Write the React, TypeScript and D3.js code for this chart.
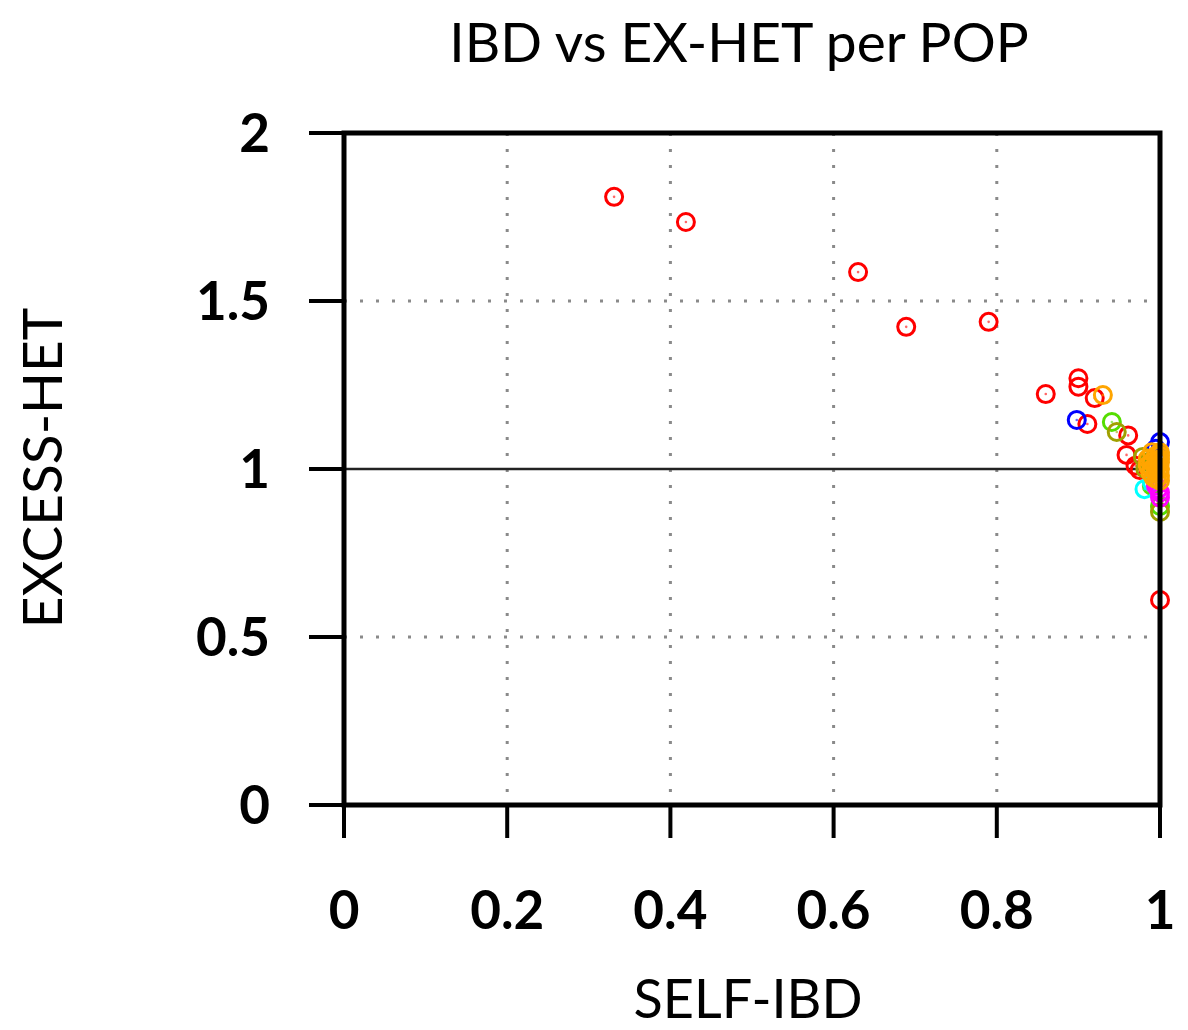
import * as d3 from "d3";
import React, { useEffect, useRef } from "react";

// SELF-IBD (x) and EXCESS-HET (y) per population colour group
const redX = [0.331, 0.419, 0.63, 0.689, 0.79, 0.86, 0.9, 0.9, 0.92, 0.911, 0.961, 0.959, 0.975, 0.97, 1.0];
const redY = [1.81, 1.735, 1.586, 1.423, 1.438, 1.223, 1.27, 1.245, 1.211, 1.134, 1.1, 1.042, 0.997, 1.01, 0.61];
const blueX = [0.898, 1.0, 0.995];
const blueY = [1.146, 1.08, 1.06];
const greenX = [0.941, 1.0, 0.99];
const greenY = [1.14, 0.89, 0.95];
const oliveX = [0.947, 0.979, 0.985, 1.0, 0.982];
const oliveY = [1.11, 1.036, 1.02, 0.872, 1.0];
const cyanX = [0.981, 0.99];
const cyanY = [0.94, 0.96];
const magentaX = [1.0, 1.0, 0.995, 0.998];
const magentaY = [0.93, 0.915, 0.95, 0.94];
const orangeX = [0.93, 0.985, 0.99, 0.995, 1.0, 1.0, 1.0, 0.99, 0.995, 1.0, 0.985, 0.99, 1.0, 0.995, 1.0, 0.992, 0.997, 1.0, 0.988, 0.996];
const orangeY = [1.22, 1.03, 1.05, 1.04, 1.05, 1.02, 1.0, 1.0, 0.99, 0.98, 1.01, 1.02, 1.03, 1.01, 0.965, 0.975, 1.025, 1.04, 0.99, 0.97];

const xTicks = [0, 0.2, 0.4, 0.6, 0.8, 1];
const yTicks = [0, 0.5, 1, 1.5, 2];

const groups = [
  { color: "#ff0000", xs: redX, ys: redY },
  { color: "#0000ff", xs: blueX, ys: blueY },
  { color: "#55dd00", xs: greenX, ys: greenY },
  { color: "#a0a000", xs: oliveX, ys: oliveY },
  { color: "#00ffff", xs: cyanX, ys: cyanY },
  { color: "#ff00ff", xs: magentaX, ys: magentaY },
  { color: "#ffa500", xs: orangeX, ys: orangeY },
];

export default function App() {
  const svgRef = useRef<SVGSVGElement>(null);

  useEffect(() => {
    const W = 1188, H = 1030;
    const svg = d3.select(svgRef.current).attr("width", W).attr("height", H);
    svg.selectAll("*").remove();

    const left = 344, right = 1160, top = 133, bottom = 805;
    const x = d3.scaleLinear().domain([0, 1]).range([left, right]);
    const y = d3.scaleLinear().domain([0, 2]).range([bottom, top]);
    const font = "Lato, 'Open Sans', sans-serif";

    // dotted grid
    const grid = svg.append("g");
    grid.selectAll(".gx")
      .data(xTicks.filter((d) => d > 0 && d < 1))
      .enter().append("line")
      .attr("x1", (d) => x(d)).attr("x2", (d) => x(d))
      .attr("y1", top).attr("y2", bottom)
      .attr("stroke", "#8a8a8a").attr("stroke-width", 3)
      .attr("stroke-dasharray", "3,13");
    grid.selectAll(".gy")
      .data(yTicks.filter((d) => d > 0 && d < 2 && d !== 1))
      .enter().append("line")
      .attr("x1", left).attr("x2", right)
      .attr("y1", (d) => y(d)).attr("y2", (d) => y(d))
      .attr("stroke", "#8a8a8a").attr("stroke-width", 3)
      .attr("stroke-dasharray", "3,13");

    // reference line at 1
    svg.append("line")
      .attr("x1", left).attr("x2", right)
      .attr("y1", y(1)).attr("y2", y(1))
      .attr("stroke", "#222").attr("stroke-width", 2.5);

    // points
    groups.forEach((g) => {
      const pts = g.xs.map((v, i) => [v, g.ys[i]]);
      const sel = svg.append("g");
      sel.selectAll("circle.o")
        .data(pts).enter().append("circle")
        .attr("cx", (d) => x(d[0])).attr("cy", (d) => y(d[1]))
        .attr("r", 8.5).attr("fill", "none")
        .attr("stroke", g.color).attr("stroke-width", 3);
      sel.selectAll("circle.c")
        .data(pts).enter().append("circle")
        .attr("cx", (d) => x(d[0])).attr("cy", (d) => y(d[1]))
        .attr("r", 1.3).attr("fill", g.color).attr("opacity", 0.6);
    });

    // frame
    svg.append("rect")
      .attr("x", left).attr("y", top)
      .attr("width", right - left).attr("height", bottom - top)
      .attr("fill", "none").attr("stroke", "#000").attr("stroke-width", 5);

    // ticks
    svg.selectAll(".ty").data(yTicks).enter().append("line")
      .attr("x1", 309).attr("x2", left)
      .attr("y1", (d) => y(d)).attr("y2", (d) => y(d))
      .attr("stroke", "#000").attr("stroke-width", 4);
    svg.selectAll(".tx").data(xTicks).enter().append("line")
      .attr("x1", (d) => x(d)).attr("x2", (d) => x(d))
      .attr("y1", bottom).attr("y2", 838)
      .attr("stroke", "#000").attr("stroke-width", 4);

    // tick labels
    svg.selectAll(".ly").data(yTicks).enter().append("text")
      .attr("x", 270).attr("y", (d) => y(d) + 19)
      .attr("text-anchor", "end")
      .attr("font-family", font).attr("font-size", 53)
      .attr("font-weight", "bold")
      .text((d) => `${d}`);
    svg.selectAll(".lx").data(xTicks).enter().append("text")
      .attr("x", (d) => x(d)).attr("y", 929)
      .attr("text-anchor", "middle")
      .attr("font-family", font).attr("font-size", 53)
      .attr("font-weight", "bold")
      .text((d) => `${d}`);

    // titles
    svg.append("text")
      .attr("x", 739).attr("y", 62)
      .attr("text-anchor", "middle")
      .attr("font-family", font).attr("font-size", 55)
      .text("IBD vs EX-HET per POP");
    svg.append("text")
      .attr("x", 748).attr("y", 1018)
      .attr("text-anchor", "middle")
      .attr("font-family", font).attr("font-size", 54)
      .text("SELF-IBD");
    svg.append("text")
      .attr("transform", "translate(62,468) rotate(-90)")
      .attr("text-anchor", "middle")
      .attr("font-family", font).attr("font-size", 55)
      .text("EXCESS-HET");
  }, []);

  return (
    <div style={{ position: "absolute", left: 0, top: 0 }}>
      <svg ref={svgRef}></svg>
    </div>
  );
}
